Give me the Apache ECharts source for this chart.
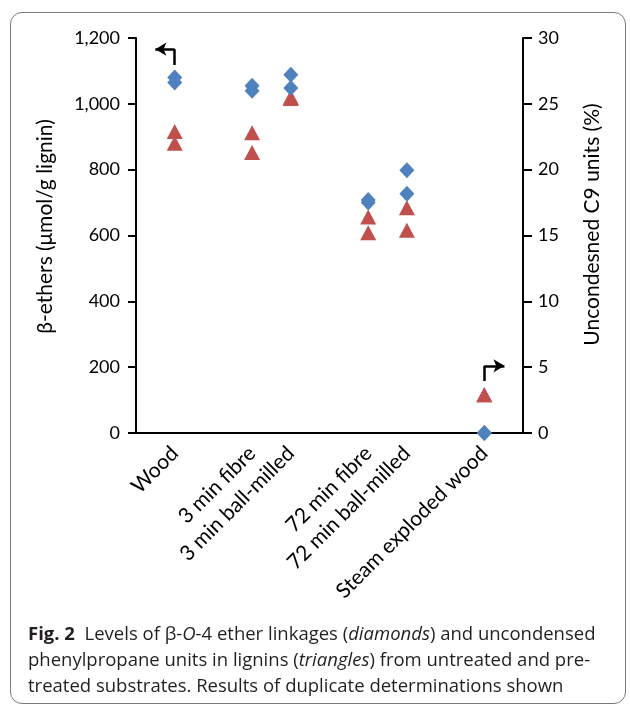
<!DOCTYPE html>
<html>
<head>
<meta charset="utf-8">
<script src="https://cdn.jsdelivr.net/npm/echarts@6/dist/echarts.min.js"></script>
<style>
  html, body { margin: 0; padding: 0; background: #fff; }
  .page { position: relative; width: 630px; height: 704px; overflow: hidden; }
  .frame {
    position: absolute; left: 10px; top: 12px; width: 616px; height: 692px;
    border: 1.5px solid #7a7a7a; border-radius: 12px; box-sizing: border-box;
  }
  #chart { position: absolute; left: 0; top: 0; width: 630px; height: 704px; }
  .caption {
    position: absolute; left: 28px; top: 620px; width: 600px;
    font-family: "Open Sans", "Noto Sans", sans-serif; font-size: 18.5px;
    line-height: 26px; color: #231f20; white-space: nowrap;
  }
</style>
</head>
<body>
<div class="page">
  <div class="frame"></div>
  <div id="chart"></div>
  <div class="caption"><b>Fig. 2</b>&nbsp; Levels of β-<i>O</i>-4 ether linkages (<i>diamonds</i>) and uncondensed<br>phenylpropane units in lignins (<i>triangles</i>) from untreated and pre-<br>treated substrates. Results of duplicate determinations shown</div>
</div>
<script>
// x 轴标签（空位保留间隔）
const tickLabels = ['', 'Wood', '', '3 min fibre', '3 min ball-milled', '', '72 min fibre', '72 min ball-milled', '', 'Steam exploded wood', '']
const samples = ['Wood', '3 min fibre', '3 min ball-milled', '72 min fibre', '72 min ball-milled', 'Steam exploded wood']

// β-O-4 醚键（μmol/g lignin），两次测定
const ethersRun1 = [1080, 1055, 1088, 708, 798, 0]
const ethersRun2 = [1065, 1040, 1048, 700, 727, 0]

// 未缩合 C9 单元 (%)，两次测定
const uncondRun1 = [22.9, 22.8, 25.5, 16.4, 17.1, 2.9]
const uncondRun2 = [22.0, 21.3, 25.4, 15.2, 15.4, 2.9]

const FONT = 'Lato'
const BLUE = '#4f81bd'
const RED = '#c0504d'

// 样品在 x 轴上的序号
const toPairs = (vals) => samples.map((s, i) => [tickLabels.indexOf(s), vals[i]])

const arrowLine = {
  silent: true,
  animation: false,
  label: { show: false },
  lineStyle: { color: '#000', width: 2.5, type: 'solid' },
  emphasis: { disabled: true },
  symbol: ['none', 'arrow'],
  symbolSize: [10, 11]
}

const chart = echarts.init(document.getElementById('chart'))

chart.setOption({
  animation: false,
  backgroundColor: 'transparent',
  grid: { left: 136, right: 107, top: 38, bottom: 271 },
  xAxis: {
    type: 'value',
    min: 0,
    max: tickLabels.length - 1,
    interval: 1,
    axisLine: { onZero: false, lineStyle: { color: '#000', width: 2 } },
    axisTick: { show: false },
    axisLabel: {
      rotate: 45,
      margin: 17,
      color: '#000',
      fontFamily: FONT,
      fontSize: 21,
      showMinLabel: true,
      showMaxLabel: true,
      formatter: (v) => tickLabels[Math.round(v)] || ''
    },
    splitLine: { show: false }
  },
  yAxis: [
    {
      type: 'value',
      min: 0,
      max: 1200,
      interval: 200,
      name: 'β-ethers (μmol/g lignin)',
      nameLocation: 'middle',
      nameGap: 80,
      nameTextStyle: { color: '#000', fontFamily: FONT, fontSize: 21, padding: [0, 0, 0, 18] },
      axisLine: { show: true, lineStyle: { color: '#000', width: 2 } },
      axisTick: { show: true, length: 8, lineStyle: { color: '#000', width: 2 } },
      axisLabel: {
        color: '#000',
        fontFamily: FONT,
        fontSize: 18,
        margin: 16,
        formatter: (v) => v.toLocaleString('en-US')
      },
      splitLine: { show: false }
    },
    {
      type: 'value',
      min: 0,
      max: 30,
      interval: 5,
      position: 'right',
      name: 'Uncondesned C9 units (%)',
      nameLocation: 'middle',
      nameGap: 59,
      nameRotate: 90,
      nameTextStyle: { color: '#000', fontFamily: FONT, fontSize: 21, padding: [0, 0, 0, 22] },
      axisLine: { show: true, lineStyle: { color: '#000', width: 2 } },
      axisTick: { show: true, length: 9, lineStyle: { color: '#000', width: 2 } },
      axisLabel: { color: '#000', fontFamily: FONT, fontSize: 18, margin: 15 },
      splitLine: { show: false }
    }
  ],
  series: [
    {
      name: 'β-ethers run 1',
      type: 'scatter',
      yAxisIndex: 0,
      symbol: 'diamond',
      symbolSize: [15, 16],
      itemStyle: { color: BLUE, opacity: 1 },
      data: toPairs(ethersRun1),
      z: 3,
      markLine: Object.assign({}, arrowLine, {
        data: [
          [{ coord: [1, 1118], symbol: 'none' }, { coord: [1, 1166], symbol: 'none' }],
          [{ coord: [1, 1166], symbol: 'none' }, { coord: [0.5, 1166], symbol: 'arrow' }]
        ]
      })
    },
    {
      name: 'β-ethers run 2',
      type: 'scatter',
      yAxisIndex: 0,
      symbol: 'diamond',
      symbolSize: [15, 16],
      itemStyle: { color: BLUE, opacity: 1 },
      data: toPairs(ethersRun2),
      z: 3
    },
    {
      name: 'Uncondensed run 1',
      type: 'scatter',
      yAxisIndex: 1,
      symbol: 'triangle',
      symbolSize: [16, 15],
      itemStyle: { color: RED, opacity: 1 },
      data: toPairs(uncondRun1),
      z: 2,
      markLine: Object.assign({}, arrowLine, {
        data: [
          [{ coord: [9, 3.95], symbol: 'none' }, { coord: [9, 5.1], symbol: 'none' }],
          [{ coord: [9, 5.1], symbol: 'none' }, { coord: [9.52, 5.1], symbol: 'arrow' }]
        ]
      })
    },
    {
      name: 'Uncondensed run 2',
      type: 'scatter',
      yAxisIndex: 1,
      symbol: 'triangle',
      symbolSize: [16, 15],
      itemStyle: { color: RED, opacity: 1 },
      data: toPairs(uncondRun2),
      z: 2
    }
  ]
})
</script>
</body>
</html>
